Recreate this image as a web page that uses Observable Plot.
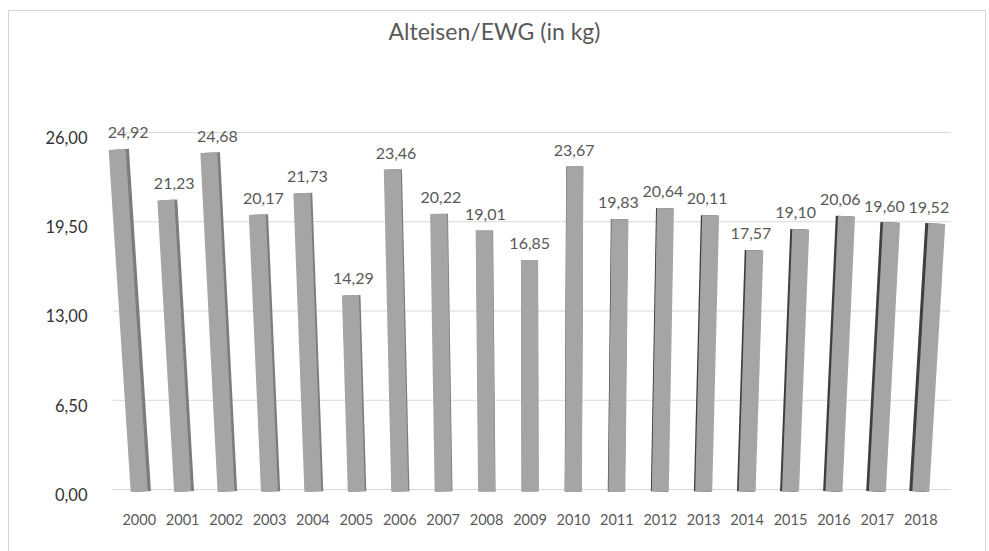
<!DOCTYPE html>
<html>
<head>
<meta charset="utf-8">
<script src="https://cdn.jsdelivr.net/npm/d3@7"></script>
<script src="https://cdn.jsdelivr.net/npm/@observablehq/plot@0.6"></script>
<style>
  html, body { margin: 0; padding: 0; background: #fff; }
  #wrap { position: relative; width: 989px; height: 551px; overflow: hidden; font-family: Lato, "Open Sans", sans-serif; }
  #frame { position: absolute; left: 8px; top: 10px; width: 978px; height: 600px; border: 1px solid #d4d4d4; box-sizing: border-box; }
  #title { position: absolute; left: 0; width: 989px; top: 17px; text-align: center; font-size: 23px; color: #595959; font-family: Lato, sans-serif; }
  #chart { position: absolute; left: 0; top: 0; }
</style>
</head>
<body>
<div id="wrap">
  <div id="frame"></div>
  <div id="chart"></div>
  <div id="title">Alteisen/EWG (in kg)</div>
</div>
<script>
const years = [2000, 2001, 2002, 2003, 2004, 2005, 2006, 2007, 2008, 2009, 2010, 2011, 2012, 2013, 2014, 2015, 2016, 2017, 2018];
const values = [24.92, 21.23, 24.68, 20.17, 21.73, 14.29, 23.46, 20.22, 19.01, 16.85, 23.67, 19.83, 20.64, 20.11, 17.57, 19.10, 20.06, 19.60, 19.52];
const yTicks = [0, 6.5, 13, 19.5, 26];

// perspective look of the 3D columns
const center = 9.35;   // column index seen straight on
const leanK = 0.0567;  // lean of the column top, in band units
const pxPerBand = 43.4;
const yMax = 26;

const fmt = v => d3.format(".2f")(v).replace(".", ",");

const rows = years.map((year, i) => {
  const lean = leanK * (values[i] / yMax) * (i - center);
  const sideW = 0.35 * Math.abs(i - center) / pxPerBand;
  const sideOff = i < center ? sideW : -sideW;
  return {i, year, value: values[i], lean, sideOff, left: i < center};
});

const chart = Plot.plot({
  width: 989,
  height: 551,
  marginLeft: 117,
  marginRight: 47,
  marginTop: 134,
  marginBottom: 60,
  style: {fontFamily: "Lato, sans-serif", background: "transparent"},
  x: {type: "linear", domain: [-0.5, years.length - 0.5], axis: null},
  y: {domain: [0, yMax], axis: null},
  marks: [
    Plot.ruleY(yTicks, {x1: -0.6, x2: 18.7, stroke: "#d9d9d9", strokeWidth: 1.2, dy: -2}),
    // side face of each column
    Plot.link(rows, {
      x1: d => d.i + d.sideOff, y1: 0,
      x2: d => d.i + d.lean + d.sideOff, y2: "value",
      stroke: d => d.left ? "#7c7c7c" : "#3f3f3f",
      strokeWidth: 17
    }),
    // front face
    Plot.link(rows, {
      x1: "i", y1: 0,
      x2: d => d.i + d.lean, y2: "value",
      stroke: "#a5a5a5",
      strokeWidth: 17
    }),
    Plot.text(rows, {
      x: d => d.i + d.lean * 0.5, y: "value",
      text: d => fmt(d.value),
      dy: -16, fill: "#595959", fontSize: 16, lineAnchor: "middle"
    }),
    Plot.axisY(yTicks, {
      tickSize: 0, tickPadding: 30, dy: 4, label: null,
      tickFormat: fmt, fontSize: 16.5, fill: "#333"
    }),
    Plot.axisX(years.map((y, i) => i), {
      tickSize: 0, tickPadding: 23, label: null,
      tickFormat: i => String(years[i]), fontSize: 14.5, fill: "#595959"
    })
  ]
});
document.getElementById("chart").appendChild(chart);
</script>
</body>
</html>
